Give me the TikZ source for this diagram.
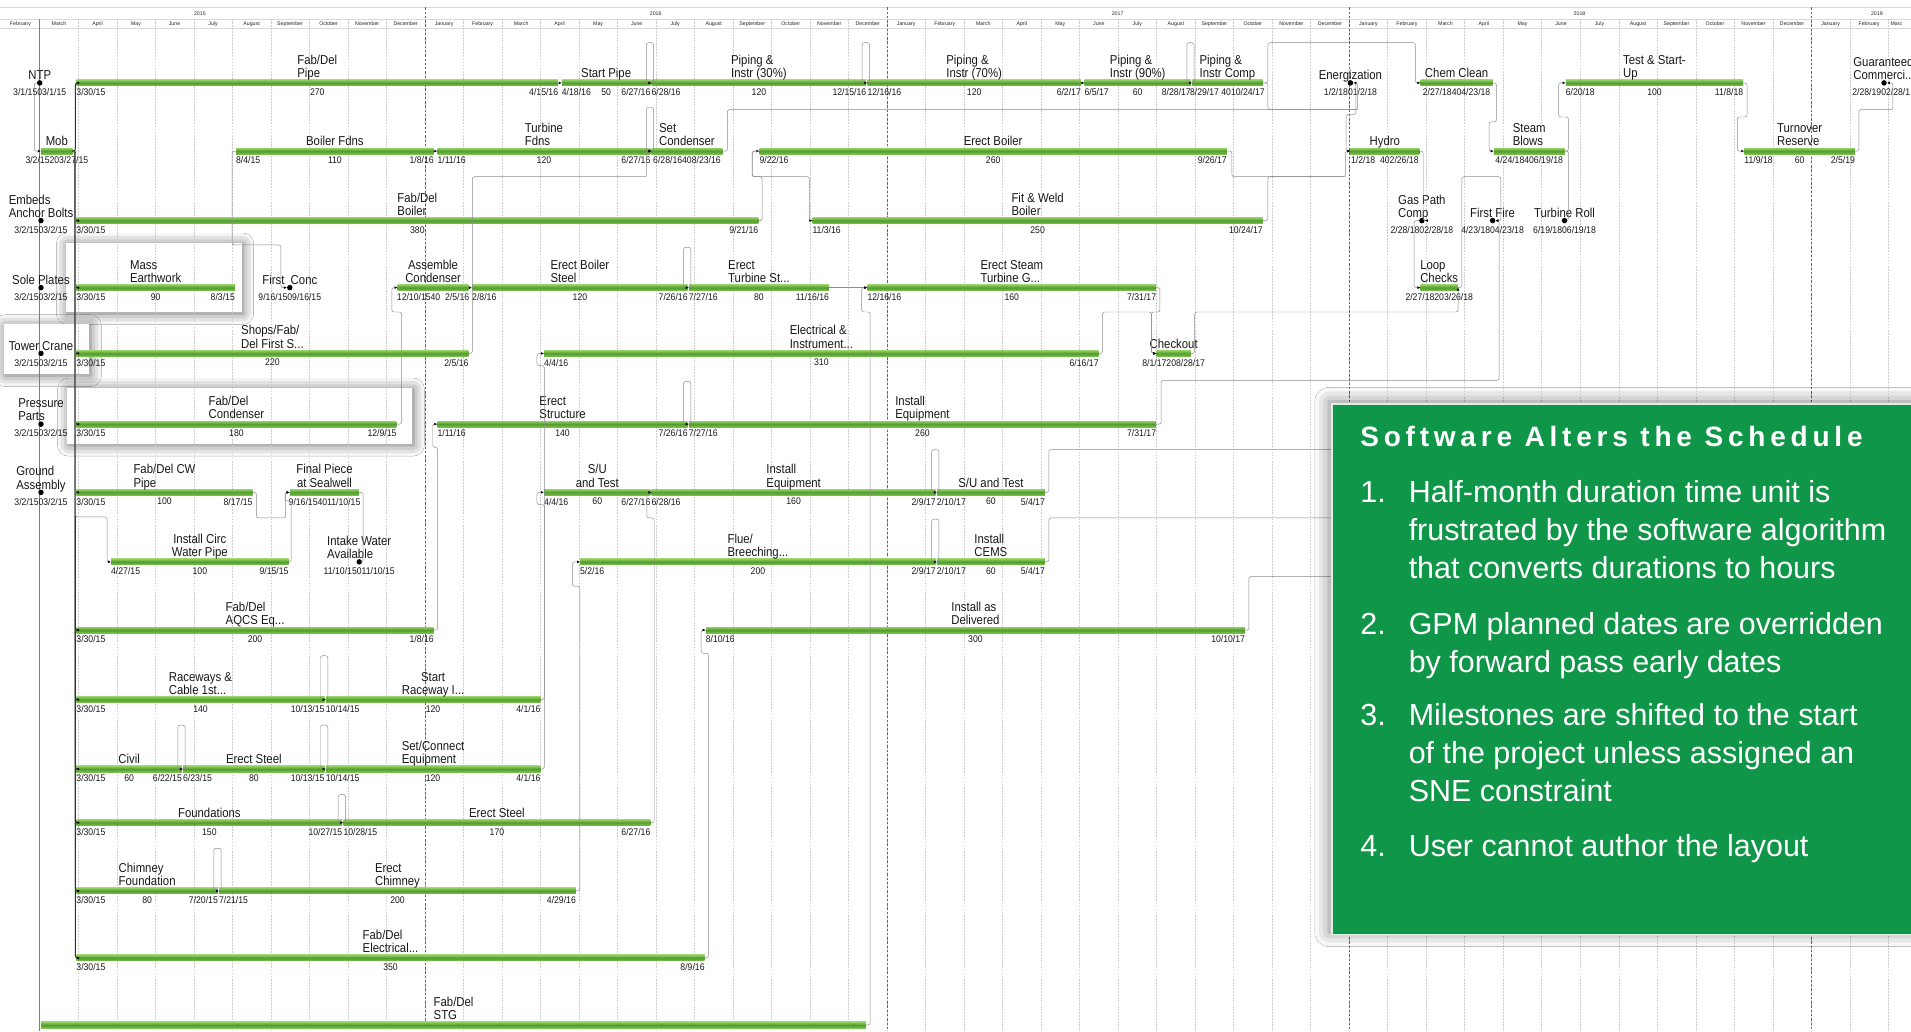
\documentclass[tikz,border=0pt]{standalone}
\usepackage{fontspec}
\setmainfont{Liberation Sans}
\newfontfamily\labfont[FakeStretch=0.88]{Liberation Sans}
\newfontfamily\datefont[FakeStretch=0.9]{Liberation Sans}
\newfontfamily\ttlfont[LetterSpace=17]{Liberation Sans}
\usetikzlibrary{arrows.meta,shadows.blur,calc}

\definecolor{gtop}{RGB}{145,205,100}
\definecolor{gmid}{RGB}{80,158,42}
\definecolor{gbot}{RGB}{125,192,80}
\definecolor{boxgreen}{RGB}{16,150,72}
\definecolor{statusblue}{RGB}{110,110,245}

% x position (pt) of a date given as yy,mm,dd
\pgfmathdeclarefunction{gx}{3}{\pgfmathparse{1+31.6*((#1-15)*12+#2-2)+1.039*(#3-1)}}

\tikzset{
  gbar/.style={rectangle, draw=none, inner sep=0pt, minimum height=5pt,
    top color=gtop, bottom color=gbot, middle color=gmid},
  tlab/.style={font=\labfont\fontsize{10.6}{10.8}\selectfont, align=left,
    inner sep=0pt, anchor=south, text depth=0pt, text=black!90},
  dlab/.style={font=\datefont\fontsize{7.9}{8}\selectfont, inner sep=0pt, text=black!90},
  ms/.style={circle, fill=black, inner sep=0pt, minimum size=4.5pt},
  dep/.style={draw=black!45, line width=0.4pt, rounded corners=1.8pt,
    -{Latex[length=2.4pt,width=2.2pt,color=black]}},
  depk/.style={dep, draw=black!80, line width=0.8pt},
  gridl/.style={draw=black!20, line width=0.4pt, dash pattern=on 1.5pt off 1pt},
  yearl/.style={draw=black!60, line width=0.5pt, dash pattern=on 2pt off 1.5pt},
  hline/.style={draw=black!15, line width=0.4pt},
  hdr/.style={font=\fontsize{4.3}{5}\selectfont, inner sep=0pt, text=black!85},
  wbox/.style={fill=white, draw=none, anchor=north west, inner sep=0pt,
    blur shadow={shadow xshift=1pt, shadow yshift=-1pt, shadow blur radius=9pt, shadow opacity=60}},
  btxt/.style={anchor=base west, text=white, inner sep=0pt, font=\fontsize{25}{30}\selectfont}
}

% bar with label above and dates below
\newcommand\gtask[9][]{%
  \pgfmathsetmacro\xa{gx(#4)}%
  \pgfmathsetmacro\xb{gx(#5)}%
  \pgfmathsetmacro\xw{\xb-\xa}%
  \node[gbar, minimum width=\xw pt] (#2) at ({(\xa+\xb)/2},#3) {};
  \node[tlab,#1] (#2-t) at ([yshift=1.5pt]#2.north) {#6};
  \if\relax\detokenize{#7}\relax
    \node[dlab, anchor=north] (#2-d) at ([yshift=-1.8pt]#2.south) {#8};
  \else
    \node[dlab, anchor=north west] (#2-s) at ([yshift=-1.8pt]#2.south west) {#7};
    \node[dlab, anchor=north] (#2-d) at ([yshift=-1.8pt]#2.south) {#8};
    \node[dlab, anchor=north east] (#2-e) at ([yshift=-1.8pt]#2.south east) {#9};
  \fi
}
% milestone marker with label and dates
\newcommand\mstone[6][]{%
  \pgfmathsetmacro\xa{gx(#4)}%
  \node[ms] (#2) at (\xa,#3) {};
  \node[tlab,#1] (#2-t) at (#2.north) {#5};
  \node[dlab, anchor=north] (#2-d) at ([yshift=-2pt]#2.south) {#6};
}

\begin{document}
\begin{tikzpicture}[x=1pt,y=-1pt]
\useasboundingbox (0,0) rectangle (1568,846);
\clip (0,0) rectangle (1568,846);
\fill[white] (0,0) rectangle (1568,846);

% highlight frames
\node[wbox, minimum width=144pt, minimum height=57pt] (hbox1) at (54,199) {};
\node[wbox, minimum width=70pt, minimum height=41pt] (hbox2) at (3,266) {};
\node[wbox, minimum width=283pt, minimum height=46pt] (hbox3) at (55,318) {};

% timescale header
\draw[hline] (0,6) -- (1568,6);
\draw[hline] (0,15.5) -- (1568,15.5);
\draw[hline] (0,23.5) -- (1568,23.5);
\foreach \k in {1,...,49} {\draw[gridl] (1+31.6*\k,15.5) -- (1+31.6*\k,846);}
\foreach \k in {11,23,35,47} {\draw[yearl] (1+31.6*\k,6) -- (1+31.6*\k,846);}
\foreach \k in {0,...,48} {
  \pgfmathtruncatemacro\mi{mod(\k+1,12)}
  \node[hdr] (mon\k) at (1+31.6*\k+15.8,19.6)
    {\ifcase\mi January\or February\or March\or April\or May\or June\or July\or August\or September\or October\or November\or December\fi};
}
\node[hdr, anchor=west] (mon49) at (1551,19.6) {Marc};
\node[hdr] (yr15) at (164,11.2) {2015};
\node[hdr] (yr16) at (538,11.2) {2016};
\node[hdr] (yr17) at (917,11.2) {2017};
\node[hdr] (yr18) at (1296,11.2) {2018};
\node[hdr] (yr19) at (1540,11.2) {2019};

% status date
\draw[statusblue, line width=0.7pt] (32.6,15.5) -- (32.6,846);

% row 1
\mstone{ntp}{68}{15,3,1}{NTP}{3/1/1503/1/15}
\gtask{t1a}{68}{15,3,30}{16,4,15}{Fab/Del\\Pipe}{3/30/15}{270}{4/15/16}
\gtask{t1b}{68}{16,4,18}{16,6,27}{Start Pipe}{4/18/16}{50}{6/27/16}
\gtask{t1c}{68}{16,6,28}{16,12,15}{Piping \&\\Instr (30\%)}{6/28/16}{120}{12/15/16}
\gtask{t1d}{68}{16,12,16}{17,6,2}{Piping \&\\Instr (70\%)}{12/16/16}{120}{6/2/17}
\gtask{t1e}{68}{17,6,5}{17,8,28}{Piping \&\\Instr (90\%)}{6/5/17}{60}{8/28/17}
\gtask{t1f}{68}{17,8,29}{17,10,24}{Piping \&\\Instr Comp}{}{8/29/17\ 4010/24/17}{}
\mstone{en}{68}{18,1,2}{Energization}{1/2/1801/2/18}
\gtask{t1g}{68}{18,2,27}{18,4,23}{Chem Clean}{}{2/27/18404/23/18}{}
\gtask{t1h}{68}{18,6,20}{18,11,8}{Test \& Start-\\Up}{6/20/18}{100}{11/8/18}
\pgfmathsetmacro\xa{gx(19,2,28)}
\node[ms] (gc) at (\xa,68) {};
\node[tlab] (gc-t) at (gc.north) {Guaranteed\\Commerci...};
\node[dlab, anchor=north east] (gc-d) at ([yshift=-2pt]1567.5,70.25) {2/28/1902/28/1};

% row 2
\gtask{t2a}{124}{15,3,2}{15,3,27}{Mob}{}{3/2/15203/27/15}{}
\gtask{t2b}{124}{15,8,4}{16,1,8}{Boiler Fdns}{8/4/15}{110}{1/8/16}
\gtask{t2c}{124}{16,1,11}{16,6,27}{Turbine\\Fdns}{1/11/16}{120}{6/27/16}
\gtask{t2d}{124}{16,6,28}{16,8,23}{Set\\Condenser}{}{6/28/16408/23/16}{}
\gtask{t2e}{124}{16,9,22}{17,9,26}{Erect Boiler}{9/22/16}{260}{9/26/17}
\gtask{t2f}{124}{18,1,2}{18,2,26}{Hydro}{}{1/2/18\ \ 402/26/18}{}
\gtask{t2g}{124}{18,4,24}{18,6,19}{Steam\\Blows}{}{4/24/18406/19/18}{}
\gtask{t2h}{124}{18,11,9}{19,2,5}{Turnover\\Reserve}{11/9/18}{60}{2/5/19}

% row 3
\mstone{m3}{181}{15,3,2}{Embeds\\Anchor Bolts}{3/2/1503/2/15}
\gtask{t3a}{181}{15,3,30}{16,9,21}{Fab/Del\\Boiler}{3/30/15}{380}{9/21/16}
\gtask{t3b}{181}{16,11,3}{17,10,24}{Fit \& Weld\\Boiler}{11/3/16}{250}{10/24/17}
\mstone{gp}{181}{18,2,28}{Gas Path\\Comp}{2/28/1802/28/18}
\mstone{ff}{181}{18,4,23}{First Fire}{4/23/1804/23/18}
\mstone{tr}{181}{18,6,19}{Turbine Roll}{6/19/1806/19/18}

% row 4
\mstone{m4}{236}{15,3,2}{Sole Plates}{3/2/1503/2/15}
\gtask{t4a}{236}{15,3,30}{15,8,3}{Mass\\Earthwork}{3/30/15}{90}{8/3/15}
\mstone{fc}{236}{15,9,16}{First\ \ Conc}{9/16/1509/16/15}
\gtask[align=center]{t4b}{236}{15,12,10}{16,2,5}{Assemble\\Condenser}{}{12/10/1540\ \ 2/5/16}{}
\gtask{t4c}{236}{16,2,8}{16,7,26}{Erect Boiler\\Steel}{2/8/16}{120}{7/26/16}
\gtask{t4d}{236}{16,7,27}{16,11,16}{Erect\\Turbine St...}{7/27/16}{80}{11/16/16}
\gtask{t4e}{236}{16,12,16}{17,7,31}{Erect Steam\\Turbine G...}{12/16/16}{160}{7/31/17}
\gtask{t4f}{236}{18,2,27}{18,3,26}{Loop\\Checks}{}{2/27/18203/26/18}{}

% row 5
\mstone{m5}{290}{15,3,2}{Tower Crane}{3/2/1503/2/15}
\gtask{t5a}{290}{15,3,30}{16,2,5}{Shops/Fab/\\Del First S...}{3/30/15}{220}{2/5/16}
\gtask{t5b}{290}{16,4,4}{17,6,16}{Electrical \&\\Instrument...}{4/4/16}{310}{6/16/17}
\gtask{t5c}{290}{17,8,1}{17,8,28}{Checkout}{}{8/1/17208/28/17}{}

% row 6
\mstone{m6}{348}{15,3,2}{Pressure\\Parts}{3/2/1503/2/15}
\gtask{t6a}{348}{15,3,30}{15,12,9}{Fab/Del\\Condenser}{3/30/15}{180}{12/9/15}
\gtask{t6b}{348}{16,1,11}{16,7,26}{Erect\\Structure}{1/11/16}{140}{7/26/16}
\gtask{t6c}{348}{16,7,27}{17,7,31}{Install\\Equipment}{7/27/16}{260}{7/31/17}

% row 7
\mstone{m7}{404}{15,3,2}{Ground\\Assembly}{3/2/1503/2/15}
\gtask{t7a}{404}{15,3,30}{15,8,17}{Fab/Del CW\\Pipe}{3/30/15}{100}{8/17/15}
\gtask[align=center]{t7b}{404}{15,9,16}{15,11,10}{Final Piece\\at Sealwell}{}{9/16/154011/10/15}{}
\gtask[align=center]{t7c}{404}{16,4,4}{16,6,27}{S/U\\and Test}{4/4/16}{60}{6/27/16}
\gtask{t7d}{404}{16,6,28}{17,2,9}{Install\\Equipment}{6/28/16}{160}{2/9/17}
\gtask{t7e}{404}{17,2,10}{17,5,4}{S/U and Test}{2/10/17}{60}{5/4/17}

% row 8
\gtask[align=center]{t8a}{461}{15,4,27}{15,9,15}{Install Circ\\Water Pipe}{4/27/15}{100}{9/15/15}
\mstone{iw}{461}{15,11,10}{Intake Water\\Available}{11/10/15011/10/15}
\gtask{t8b}{461}{16,5,2}{17,2,9}{Flue/\\Breeching...}{5/2/16}{200}{2/9/17}
\gtask{t8c}{461}{17,2,10}{17,5,4}{Install\\CEMS}{2/10/17}{60}{5/4/17}

% row 9
\gtask{t9a}{517}{15,3,30}{16,1,8}{Fab/Del\\AQCS Eq...}{3/30/15}{200}{1/8/16}
\gtask{t9b}{517}{16,8,10}{17,10,10}{Install as\\Delivered}{8/10/16}{300}{10/10/17}

% row 10
\gtask{t10a}{574}{15,3,30}{15,10,13}{Raceways \&\\Cable 1st...}{3/30/15}{140}{10/13/15}
\gtask[align=center]{t10b}{574}{15,10,14}{16,4,1}{Start\\Raceway I...}{10/14/15}{120}{4/1/16}

% row 11
\gtask{t11a}{631}{15,3,30}{15,6,22}{Civil}{3/30/15}{60}{6/22/15}
\gtask{t11b}{631}{15,6,23}{15,10,13}{Erect Steel}{6/23/15}{80}{10/13/15}
\gtask{t11c}{631}{15,10,14}{16,4,1}{Set/Connect\\Equipment}{10/14/15}{120}{4/1/16}

% row 12
\gtask{t12a}{675}{15,3,30}{15,10,27}{Foundations}{3/30/15}{150}{10/27/15}
\gtask{t12b}{675}{15,10,28}{16,6,27}{Erect Steel}{10/28/15}{170}{6/27/16}

% row 13
\gtask{t13a}{731}{15,3,30}{15,7,20}{Chimney\\Foundation}{3/30/15}{80}{7/20/15}
\gtask{t13b}{731}{15,7,21}{16,4,29}{Erect\\Chimney}{7/21/15}{200}{4/29/16}

% row 14
\gtask{t14a}{786}{15,3,30}{16,8,9}{Fab/Del\\Electrical...}{3/30/15}{350}{8/9/16}

% row 15
\pgfmathsetmacro\xa{gx(15,3,2)}
\pgfmathsetmacro\xb{gx(16,12,15)}
\pgfmathsetmacro\xw{\xb-\xa}
\node[gbar, minimum width=\xw pt] (t15a) at ({(\xa+\xb)/2},841) {};
\node[tlab] (t15a-t) at ([yshift=1.5pt]t15a.north) {Fab/Del\\STG};

% hidden ends under the note panel
\coordinate (hid1) at (1250,369);
\coordinate (hid2) at (1250,425);
\coordinate (hid3) at (1250,473);

% logic links
\draw[dep] (ntp.west) -- ++(-2,0) |- (t2a.west);
\foreach \n in {t1a,t3a,t4a,t5a,t6a,t7a,t9a,t10a,t11a,t12a,t13a,t14a}
  {\draw[depk] (t2a.east) -- ++(2,0) |- (\n.west);}
\draw[dep] (t2a.east) -- ++(2,0) |- ++(26,300) |- (t8a.west);

\draw[dep] (t1a.east) -- (t1b.west);
\draw[dep] (t1b.east) -- ++(2.5,0) |- ++(-6,-33) |- (t1c.west);
\draw[dep] (t1c.east) -- ++(2.5,0) |- ++(-6,-33) |- (t1d.west);
\draw[dep] (t1d.east) -- (t1e.west);
\draw[dep] (t1e.east) -- ++(2.5,0) |- ++(-6,-33) |- (t1f.west);
\draw[dep] (t1f.east) -- ++(4,0) |- ++(121,-33) |- (t1g.west);
\draw[dep] (t2d.east) -- ++(4,0) |- ($(en.east)+(3.5,22)$) |- (en.east);
\draw[dep,-] (t1f.east) -- ++(4,0) |- ($(en.east)+(3.5,22)$);
\draw[dep] (en.east) -- ++(2,0) |- ++(-8,26) |- (t2f.west);
\draw[dep] (t2e.east) -- ++(4,0) |- ($(t2f.west)+(-4,21)$) |- (t2f.west);
\draw[dep,-] (t3b.east) -- ++(4,0) |- ($(t2f.west)+(-4,21)$);
\draw[dep] (t1g.east) -- ++(3,0) |- ++(-6,32) |- (t2g.west);
\draw[dep] (t2f.east) -- ++(3,0) |- (gp.east);
\draw[dep] (t2g.east) -- ++(3,0) |- (tr.east);
\draw[dep] (t2g.east) -- ++(3,0) |- ++(-8,-28) |- (t1h.west);
\draw[dep] (t1h.east) -- ++(3,0) |- ++(-8,28) |- (t2h.west);
\draw[dep] (t2h.east) -- ++(3,0) |- ++(28,-34) |- (gc.east);
\draw[dep] (gp.west) -- ++(-4,0) |- (t4f.west);
\draw[dep] (t4f.east) -- ++(3,0) |- ++(32,-91) |- (ff.east);
\draw[dep] (t6c.east) -- ++(4,0) |- ($(ff.east)+(3,131)$) |- (ff.east);
\draw[dep] (t5b.east) -- ++(3,0) |- ($(t5c.west)+(-4,-34)$) |- (t5c.west);
\draw[dep] (t4e.east) -- ++(3,0) |- ($(t5c.west)+(-4,-34)$) |- (t5c.west);
\draw[dep] (t5c.east) -- ++(3,0) |- ($(t4f.east)+(0,20)$) -- (t4f.east);

\draw[dep] (t2b.east) -- (t2c.west);
\draw[dep] (t2c.east) -- ++(2.5,0) |- ++(-6,-36) |- (t2d.west);
\draw[dep] (t5a.east) -- ++(3,0) |- ++(143,-145) |- (t2d.west);
\draw[dep] (t4b.east) -- (t4c.west);
\draw[dep] (t3a.east) -- ++(3,0) |- ++(-8,-36) |- (t2e.west);
\draw[dep] (t2e.west) -- ++(-6,0) |- ++(47,21) |- (t3b.west);
\draw[dep] (t2b.west) -- ++(-3,0) |- ++(40,77) |- (fc.west);
\draw[dep] (t4c.east) -- ++(2.5,0) |- ++(-6,-33) |- (t4d.west);
\draw[dep] (t4d.east) -- (t4e.west);
\draw[dep] (t15a.east) -- ++(3,0) |- ++(-7,-585) |- (t4e.west);
\draw[dep] (t6a.east) -- ++(4,0) |- ++(-8,-92) |- (t4b.west);
\draw[dep] (t9a.east) -- ++(3,0) |- ++(-4,-150) |- (t6b.west);
\draw[dep] (t6b.east) -- ++(2.5,0) |- ++(-6,-35) |- (t6c.west);
\draw[dep] (t11c.east) -- ++(3,0) |- ++(-6,-331) |- (t5b.west);
\draw[dep] (t10b.east) -- ++(3,0) |- ++(-6,-160) |- (t7c.west);
\draw[dep] (t12b.east) -- ++(3,0) |- ++(-6,-250) |- (t7d.west);
\draw[dep] (t7d.east) -- ++(2.5,0) |- ++(-6,-35) |- (t7e.west);
\draw[dep] (t8b.east) -- ++(2.5,0) |- ++(-6,-35) |- (t8c.west);
\draw[dep] (t13b.east) -- ++(3,0) |- ++(-6,-250) |- (t8b.west);
\draw[dep] (t14a.east) -- ++(3,0) |- ++(-6,-250) |- (t9b.west);
\draw[dep,-] (t7e.east) -- ++(3,0) |- (hid1);
\draw[dep,-] (t8c.east) -- ++(3,0) |- (hid2);
\draw[dep,-] (t9b.east) -- ++(3,0) |- (hid3);

\draw[dep] (t10a.east) -- ++(2.5,0) |- ++(-6,-36) |- (t10b.west);
\draw[dep] (t11a.east) -- ++(2.5,0) |- ++(-6,-36) |- (t11b.west);
\draw[dep] (t11b.east) -- ++(2.5,0) |- ++(-6,-36) |- (t11c.west);
\draw[dep] (t12a.east) -- ++(2.5,0) |- ++(-6,-23) |- (t12b.west);
\draw[dep] (t13a.east) -- ++(2.5,0) |- ++(-6,-35) |- (t13b.west);
\draw[dep] (t7a.east) -- ++(3,0) |- ++(24,21) |- (t7b.west);
\draw[dep] (t8a.east) -- ++(2,0) |- ++(-5,-50) |- (t7b.west);
\draw[dep] (t7b.east) -- ++(3,0) |- (iw.east);

% note panel
\node[anchor=north west, inner sep=0pt, minimum width=483pt, minimum height=435pt,
  fill=boxgreen, draw=white!85!boxgreen, line width=1.5pt,
  blur shadow={shadow xshift=-2pt, shadow yshift=2pt, shadow blur radius=12pt, shadow opacity=50}]
  (panel) at (1092,331) {};
\node[anchor=base west, text=white, inner sep=0pt,
  font=\ttlfont\bfseries\fontsize{23}{26}\selectfont] (ttl) at (1116,366.4) {Software Alters the Schedule};
\node[btxt] (n1) at (1116,412.5) {1.};
\node[btxt] (l1a) at (1155.7,412.5) {Half-month duration time unit is};
\node[btxt] (l1b) at (1155.7,443.6) {frustrated by the software algorithm};
\node[btxt] (l1c) at (1155.7,474.5) {that converts durations to hours};
\node[btxt] (n2) at (1116,521) {2.};
\node[btxt] (l2a) at (1155.7,521) {GPM planned dates are overridden};
\node[btxt] (l2b) at (1155.7,551.7) {by forward pass early dates};
\node[btxt] (n3) at (1116,595.6) {3.};
\node[btxt] (l3a) at (1155.7,595.6) {Milestones are shifted to the start};
\node[btxt] (l3b) at (1155.7,626.7) {of the project unless assigned an};
\node[btxt] (l3c) at (1155.7,657.8) {SNE constraint};
\node[btxt] (n4) at (1116,703) {4.};
\node[btxt] (l4a) at (1155.7,703) {User cannot author the layout};
\end{tikzpicture}
\end{document}
